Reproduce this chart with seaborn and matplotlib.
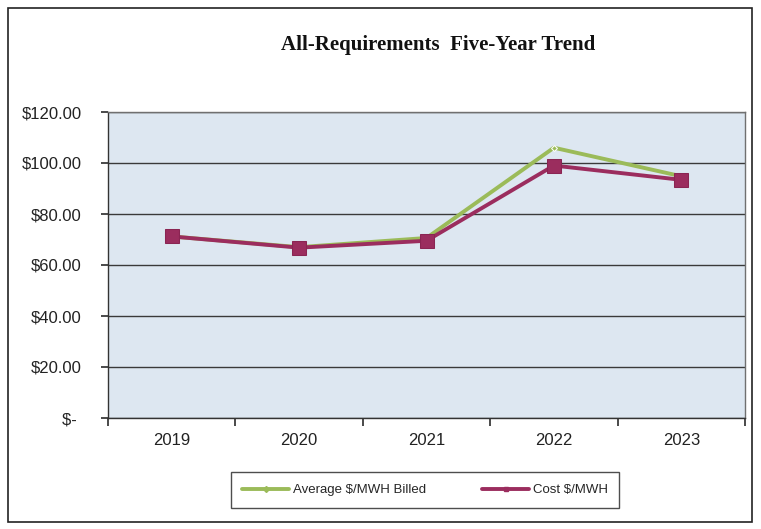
import matplotlib
matplotlib.use("Agg")
import matplotlib.pyplot as plt
from matplotlib.patches import Rectangle
from matplotlib.ticker import FixedLocator, FuncFormatter
import numpy as np
import pandas as pd
import seaborn as sns

years = ["2019", "2020", "2021", "2022", "2023"]
avg_billed = [71.2, 67.0, 70.6, 106.0, 94.8]
cost_mwh = [71.2, 66.8, 69.5, 99.0, 93.4]
series_names = ["Average $/MWH Billed", "Cost $/MWH"]
y_ticks = [0, 20, 40, 60, 80, 100, 120]

df = pd.DataFrame({
    "Year": years * 2,
    "Value": avg_billed + cost_mwh,
    "Series": [series_names[0]] * len(years) + [series_names[1]] * len(years),
})

sns.set_theme(style="white")
plt.rcParams["font.family"] = ["Liberation Sans", "DejaVu Sans"]

fig = plt.figure(figsize=(7.61, 5.29), dpi=100)
ax = fig.add_axes([108 / 761, 1 - 418 / 529, (745 - 108) / 761, (418 - 112) / 529])
ax.set_facecolor("#dde7f1")

green = "#9bbb59"
maroon = "#9b2d5e"
sns.lineplot(data=df, x="Year", y="Value", hue="Series", sort=False,
             palette={series_names[0]: green, series_names[1]: maroon},
             linewidth=2.8, ax=ax, legend=False)
lines = ax.get_lines()
lines[0].set_marker("D")
lines[0].set_markersize(3)
lines[1].set_marker("s")
lines[1].set_markersize(10)
lines[1].set_markeredgecolor("#8a2553")


def money(v, pos):
    # accounting style: zero shown as a dash, padded like the other labels
    return "$- " if v == 0 else f"${v:,.2f}"


ax.set_xlim(-0.5, 4.5)
ax.set_ylim(0, 120)
ax.yaxis.set_major_locator(FixedLocator(y_ticks))
ax.yaxis.set_major_formatter(FuncFormatter(money))
ax.grid(axis="y", color="#3a3a3a", linewidth=1.0)
ax.set_axisbelow(True)
ax.xaxis.set_major_locator(FixedLocator(np.arange(-0.5, 5, 1.0)))
ax.xaxis.set_minor_locator(FixedLocator(range(len(years))))
ax.set_xticklabels([])
ax.set_xticklabels(years, minor=True)
ax.tick_params(axis="x", which="major", length=6, color="#333333", direction="out", bottom=True)
ax.tick_params(axis="x", which="minor", length=0, labelsize=12, pad=11, labelcolor="#222222")
ax.tick_params(axis="y", length=5, color="#333333", direction="out", left=True,
               labelsize=12, labelcolor="#222222", pad=14)
ax.set_xlabel("")
ax.set_ylabel("")
for side in ["top", "right"]:
    ax.spines[side].set_color("#707070")
    ax.spines[side].set_linewidth(1.0)
for side in ["left", "bottom"]:
    ax.spines[side].set_color("#333333")
    ax.spines[side].set_linewidth(1.0)

fig.text(0.576, 1 - 45 / 529, "All-Requirements  Five-Year Trend", ha="center", va="center",
         fontsize=15, fontweight="bold", family=["Liberation Serif", "DejaVu Serif"], color="#111111")

# outer frame of the chart area
fig.patches.append(Rectangle((8 / 761, 1 - 522 / 529), (752 - 8) / 761, (522 - 8) / 529,
                             transform=fig.transFigure, fill=False, edgecolor="#222222", linewidth=1.2))

handles = [plt.Line2D([], [], color=green, lw=2.8, marker="D", markersize=3),
           plt.Line2D([], [], color=maroon, lw=2.8, marker="s", markersize=3)]
leg = fig.legend(handles, series_names, loc="center", bbox_to_anchor=(425 / 761, 1 - 490 / 529),
                 ncol=2, frameon=True, fancybox=False, fontsize=9.5, handlelength=3.5,
                 columnspacing=4.3, borderpad=0.9, handletextpad=0.3)
leg.get_frame().set_edgecolor("#222222")
leg.get_frame().set_linewidth(1.0)

fig.savefig("out.png", dpi=100)
